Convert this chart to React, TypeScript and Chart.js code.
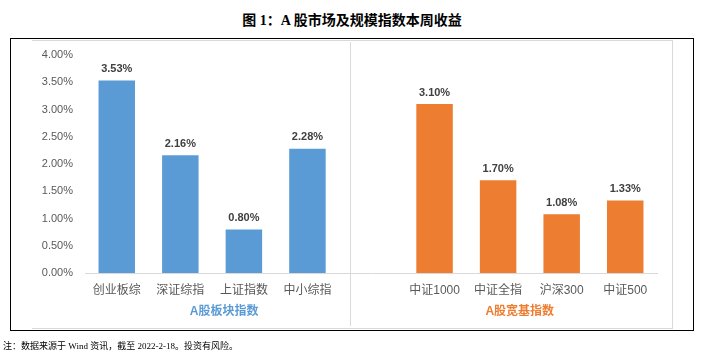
import React, { useEffect, useRef } from "react";
import { Chart, registerables } from "chart.js";
Chart.register(...registerables);

const titleText = "图 1：A 股市场及规模指数本周收益";
const noteText = "注：数据来源于 Wind 资讯，截至 2022-2-18。投资有风险。";
const boardCategories = ["创业板综", "深证综指", "上证指数", "中小综指"];
const boardValues = [3.53, 2.16, 0.8, 2.28];
const broadCategories = ["中证1000", "中证全指", "沪深300", "中证500"];
const broadValues = [3.1, 1.7, 1.08, 1.33];
const groupLabels = ["A股板块指数", "A股宽基指数"];
const yTickMin = 0;
const yTickMax = 4;
const yTickStep = 0.5;

const BLUE = "#5B9BD5";
const ORANGE = "#ED7D31";
const LATIN = '"Liberation Sans", "Noto Sans CJK SC", sans-serif';

const categories = [...boardCategories, "", ...broadCategories];
const values: (number | null)[] = [...boardValues, null, ...broadValues];
const colors = [
  ...boardValues.map(() => BLUE),
  BLUE,
  ...broadValues.map(() => ORANGE),
];

const overlayPlugin = {
  id: "overlay",
  afterDatasetsDraw(chart: any) {
    const ctx = chart.ctx;
    const meta = chart.getDatasetMeta(0);
    ctx.save();
    ctx.font = `bold 11px ${LATIN}`;
    ctx.fillStyle = "#404040";
    ctx.textAlign = "center";
    ctx.textBaseline = "bottom";
    meta.data.forEach((el: any, i: number) => {
      const v = values[i];
      if (v == null) return;
      ctx.fillText(v.toFixed(2) + "%", el.x, el.y - 6);
    });
    ctx.restore();
  },
  afterDraw(chart: any) {
    const ctx = chart.ctx;
    const x = chart.scales.x;
    const area = chart.chartArea;
    const step = x.getPixelForValue(1) - x.getPixelForValue(0);
    const sepX = Math.round(x.getPixelForValue(3) + (step * 2) / 3) + 0.5;
    ctx.save();
    ctx.strokeStyle = "#D9D9D9";
    ctx.lineWidth = 1;
    ctx.beginPath();
    ctx.moveTo(sepX, 42);
    ctx.lineTo(sepX, 326);
    ctx.stroke();
    ctx.font = `bold 12px ${LATIN}`;
    ctx.textAlign = "center";
    ctx.textBaseline = "middle";
    ctx.fillStyle = BLUE;
    ctx.fillText(groupLabels[0], x.getPixelForValue(1.69), area.bottom + 39);
    ctx.fillStyle = ORANGE;
    ctx.fillText(groupLabels[1], x.getPixelForValue(6.34), area.bottom + 39);
    ctx.restore();
  },
};

export default function App() {
  const ref = useRef<HTMLCanvasElement>(null);
  useEffect(() => {
    if (!ref.current) return;
    const chart = new Chart(ref.current, {
      type: "bar",
      data: {
        labels: categories,
        datasets: [
          {
            data: values,
            backgroundColor: colors,
            categoryPercentage: 1,
            barPercentage: 0.574,
          },
        ],
      },
      options: {
        animation: false,
        responsive: false,
        devicePixelRatio: 1,
        layout: { padding: { left: 0, right: 47, top: 55, bottom: 0 } },
        plugins: {
          legend: { display: false },
          tooltip: { enabled: false },
          title: { display: false },
        },
        scales: {
          x: {
            grid: { display: false, drawTicks: false },
            border: { display: true, color: "#D9D9D9", width: 1 },
            ticks: {
              color: "#595959",
              font: { size: 12, family: LATIN },
              padding: 10,
              maxRotation: 0,
              autoSkip: false,
            },
            afterFit: (s: any) => {
              s.height = 85;
            },
          },
          y: {
            min: yTickMin,
            max: yTickMax,
            grid: { display: false, drawTicks: false },
            border: { display: false },
            ticks: {
              stepSize: yTickStep,
              color: "#595959",
              font: { size: 11, family: LATIN },
              padding: 12,
              callback: (v: any) => Number(v).toFixed(2) + "%",
            },
            afterFit: (s: any) => {
              s.width = 85;
            },
          },
        },
      },
      plugins: [overlayPlugin],
    });
    return () => chart.destroy();
  }, []);

  return (
    <div style={{ position: "absolute", left: 0, top: 0, width: 704, height: 358, background: "#fff" }}>
      <div
        style={{
          position: "absolute",
          left: 0,
          top: 12,
          width: 704,
          textAlign: "center",
          font: 'bold 14px "Liberation Serif", "Noto Sans CJK SC", serif',
          lineHeight: "18px",
          color: "#000",
        }}
      >
        {titleText}
      </div>
      <div
        style={{
          position: "absolute",
          left: 10,
          top: 38,
          width: 682,
          height: 291,
          border: "1px solid #000",
        }}
      />
      <div
        style={{
          position: "absolute",
          left: 32,
          top: 40,
          width: 640,
          height: 287,
          borderTop: "1px solid #D9D9D9",
          borderRight: "1px solid #D9D9D9",
          borderBottom: "1px solid #D9D9D9",
        }}
      />
      <canvas
        ref={ref}
        width={704}
        height={358}
        style={{ position: "absolute", left: 0, top: 0, width: 704, height: 358 }}
      />
      <div
        style={{
          position: "absolute",
          left: 3,
          top: 340,
          font: '9px "Liberation Serif", "Noto Sans CJK SC", serif',
          lineHeight: "12px",
          color: "#000",
          whiteSpace: "nowrap",
        }}
      >
        {noteText}
      </div>
    </div>
  );
}
